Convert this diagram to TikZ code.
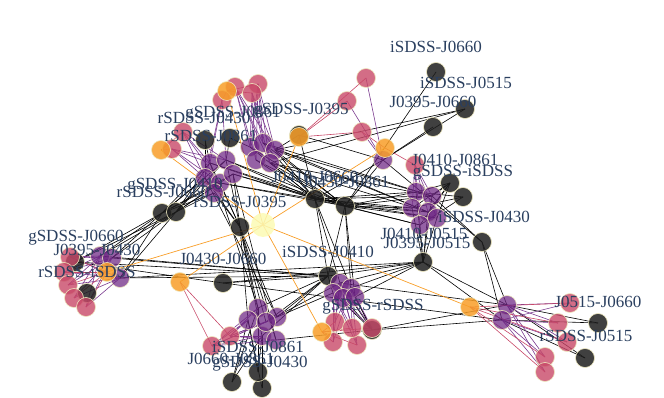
\documentclass[tikz,border=0pt]{standalone}
\usepackage{fontspec}
\setmainfont{Liberation Serif}

\pgfdeclarelayer{bg}
\pgfsetlayers{bg,main}

\definecolor{nodedark}{RGB}{30,30,30}
\definecolor{magpurple}{RGB}{108,36,130}
\definecolor{magpink}{RGB}{200,72,104}
\definecolor{magorange}{RGB}{248,158,40}
\definecolor{magyellow}{RGB}{252,250,180}
\definecolor{rim}{RGB}{238,232,190}
\definecolor{labelblue}{RGB}{42,63,95}

\tikzset{
  vtx/.style={circle, inner sep=0pt, minimum size=19pt, line width=0.6pt, draw=rim, fill opacity=0.85},
  dk/.style={vtx, fill=nodedark},
  pu/.style={vtx, fill=magpurple, fill opacity=0.72},
  pk/.style={vtx, fill=magpink, fill opacity=0.8},
  og/.style={vtx, fill=magorange},
  ye/.style={vtx, fill=magyellow, minimum size=24pt, draw=none},
  blk/.style={black, line width=0.6pt},
  pur/.style={magpurple!90!white, line width=0.6pt},
  pnk/.style={magpink, line width=0.6pt},
  org/.style={magorange, line width=0.7pt},
  lbl/.style={text=labelblue, font=\fontsize{17}{20}\selectfont, inner sep=0pt, anchor=base}
}

\begin{document}
\begin{tikzpicture}[x=1pt, y=-1pt]
\useasboundingbox (0,0) rectangle (664,398);

% vertices, dark first
\foreach \n/\x/\y in {d1/436/72, d2/465/109, d3/433/127, d4/205/140, d5/230/138,
    d6/299/135, d7/162/213, d8/176/212, d9/240/227, d10/315/199, d11/345/206,
    d12/328/276, d13/223/283, d14/450/183, d15/463/197, d16/482/242, d17/423/262,
    d18/598/323, d19/585/358, d20/232/382, d21/262/388, d22/258/372, d23/372/330,
    d24/75/262, d25/87/293}
  \node[dk] (\n) at (\x,\y) {};
\foreach \n/\x/\y in {pA1/250/147, pA2/263/143, pA3/275/150, pA4/256/160, pA5/270/163,
    pB1/210/163, pB2/226/160, pB3/205/178, pB4/220/183, pB5/233/174, pB6/214/193,
    pC1/100/256, pC2/112/258, pC3/120/278,
    pD1/258/308, pD2/248/320, pD3/277/317, pD4/262/336, pD5/276/340, pD6/266/322,
    pE1/340/283, pE2/333/293, pE3/351/288, pE4/343/298, pE5/355/297,
    pF1/416/192, pF2/432/196, pF3/412/208, pF4/428/212, pF5/420/225, pF6/437/218,
    pG1/507/305, pG2/502/320, pH1/383/160}
  \node[pu] (\n) at (\x,\y) {};
\foreach \n/\x/\y in {k1/235/87, k2/258/84, k3/252/93, k4/222/100,
    k5/366/78, k6/347/101, k7/362/132, k8/183/132, k9/172/149, k10/415/165,
    k11/70/257, k12/64/272, k13/68/285, k14/74/298, k15/86/307,
    k16/230/336, k17/212/346,
    k18/335/322, k19/333/342, k20/357/345, k21/352/328, k22/372/328,
    k23/570/303, k24/558/323, k25/567/342, k26/545/357, k27/545/372}
  \node[pk] (\n) at (\x,\y) {};
\foreach \n/\x/\y in {o1/227/91, o2/161/150, o3/299/137, o4/385/148,
    o5/107/272, o6/180/282, o7/322/332, o8/470/307}
  \node[og] (\n) at (\x,\y) {};
\node[ye] (y0) at (263,225) {};

\begin{pgfonlayer}{bg}
% black links
\foreach \i in {1,...,5} \foreach \b in {d10,d11} \draw[blk] (pA\i.center) -- (\b.center);
\foreach \i in {1,2,4,5} \foreach \b in {d10,d11} \draw[blk] (pB\i.center) -- (\b.center);
\foreach \i in {1,...,6} \foreach \b in {d7,d8} \draw[blk] (pB\i.center) -- (\b.center);
\foreach \i in {1,2,3} \foreach \b in {d7,d8} \draw[blk] (pC\i.center) -- (\b.center);
\foreach \b in {d7,d8} \draw[blk] (d24.center) -- (\b.center);
\foreach \i in {1,...,6} \draw[blk] (d9.center) -- (pB\i.center);
\foreach \i in {1,...,6} \draw[blk] (d9.center) -- (pD\i.center);
\foreach \i in {1,3,5} \draw[blk] (pB\i.center) -- (pD\i.center);
\foreach \i in {1,...,6} \foreach \b in {d10,d11} \draw[blk] (pF\i.center) -- (\b.center);
\foreach \i in {2,4} \foreach \b in {pA2,pA3,pA5} \draw[blk] (pF\i.center) -- (\b.center);
\foreach \b in {d12,pE1,pE3} \draw[blk] (d10.center) -- (\b.center);
\foreach \b in {d12,pE3,pE5} \draw[blk] (d11.center) -- (\b.center);
\foreach \i in {1,3,4,6} \draw[blk] (d12.center) -- (pD\i.center);
\foreach \b in {d17,d13,pE2} \draw[blk] (d12.center) -- (\b.center);
\foreach \i in {1,3,5} \draw[blk] (pE\i.center) -- (d17.center);
\foreach \i in {1,2,3} \draw[blk] (pC\i.center) -- (d12.center);
\foreach \b in {d12,d13} \draw[blk] (d24.center) -- (\b.center);
\draw[blk] (pC3.center) -- (d17.center);
\draw[blk] (d13.center) -- (d17.center);
\foreach \i in {1,...,6} \draw[blk] (d17.center) -- (pF\i.center);
\foreach \b in {pG1,pG2} \draw[blk] (d17.center) -- (\b.center);
\foreach \b in {pG1,pG2} \draw[blk] (d16.center) -- (\b.center);
\draw[blk] (pH1.center) -- (d16.center);
\draw[blk] (pF2.center) -- (d16.center);
\foreach \i in {1,...,6} \draw[blk] (pF\i.center) -- (d14.center);
\foreach \i in {1,3,5} \draw[blk] (pF\i.center) -- (d15.center);
\foreach \a in {pG1,pG2} \foreach \b in {d18,d19} \draw[blk] (\a.center) -- (\b.center);
\foreach \i in {1,...,5} \draw[blk] (pE\i.center) -- (d23.center);
\foreach \b in {pG1,pG2} \draw[blk] (d23.center) -- (\b.center);
\draw[blk] (pE1.center) -- (pG1.center);
\draw[blk] (d13.center) -- (pG2.center);
\foreach \i in {2,4} \foreach \b in {d20,d21,d22} \draw[blk] (pD\i.center) -- (\b.center);
\foreach \b in {d20,d22} \draw[blk] (pD1.center) -- (\b.center);
\draw[blk] (pD3.center) -- (pE2.center);
\draw[blk] (pD6.center) -- (pE1.center);
\draw[blk] (pD5.center) -- (d23.center);
\foreach \b in {pB1,pB3} \draw[blk] (d4.center) -- (\b.center);
\foreach \b in {pB2,pA1} \draw[blk] (d5.center) -- (\b.center);
\foreach \b in {pA3,pH1,d10} \draw[blk] (d6.center) -- (\b.center);
\draw[blk] (d1.center) -- (d11.center);
\foreach \b in {pH1,pA3,pA5} \draw[blk] (d2.center) -- (\b.center);
\draw[blk] (d3.center) -- (pH1.center);
\foreach \b in {d10,d11} \draw[blk] (pH1.center) -- (\b.center);
% purple links
\foreach \a in {k1,k2,k3} \foreach \i in {1,...,5} \draw[pur] (\a.center) -- (pA\i.center);
\foreach \i in {1,2,3} \draw[pur] (k4.center) -- (pB\i.center);
\foreach \a in {k8,k9} \foreach \i in {1,...,4} \draw[pur] (\a.center) -- (pB\i.center);
\foreach \a in {k5,k6,k7} \draw[pur] (\a.center) -- (pH1.center);
\foreach \i in {1,...,6} \draw[pur] (k10.center) -- (pF\i.center);
\foreach \a in {k11,k12,k13,k14,k15} \foreach \i in {1,2,3} \draw[pur] (\a.center) -- (pC\i.center);
\foreach \a in {k16,k17} \foreach \i in {1,...,6} \draw[pur] (\a.center) -- (pD\i.center);
\foreach \a in {k18,k19,k20,k21,k22} \foreach \i in {1,2,3} \draw[pur] (\a.center) -- (pE\i.center);
\foreach \a in {k23,k24,k25,k26,k27} \foreach \b in {pG1,pG2} \draw[pur] (\a.center) -- (\b.center);
% pink links
\foreach \b in {k1,k2,k3,k4} \draw[pnk] (o1.center) -- (\b.center);
\foreach \b in {k8,k9} \draw[pnk] (o2.center) -- (\b.center);
\foreach \b in {k5,k6,k7} \draw[pnk] (o3.center) -- (\b.center);
\foreach \b in {k7,k10} \draw[pnk] (o4.center) -- (\b.center);
\foreach \b in {k11,k12,k13,k14,k15} \draw[pnk] (o5.center) -- (\b.center);
\foreach \b in {k16,k17} \draw[pnk] (o6.center) -- (\b.center);
\foreach \b in {k18,k19,k20,k21,k22} \draw[pnk] (o7.center) -- (\b.center);
\foreach \b in {k23,k24,k25,k26,k27} \draw[pnk] (o8.center) -- (\b.center);
% orange links
\foreach \i in {1,...,8} \draw[org] (y0.center) -- (o\i.center);
\end{pgfonlayer}

% labels
\foreach \t/\x/\y [count=\i] in {iSDSS-J0660/436/53, iSDSS-J0515/466/89, J0395-J0660/433/108,
    gSDSS-J0395/301/115, gSDSS-J0861/233/118, rSDSS-J0430/204/124, rSDSS-J0861/211/142,
    gSDSS-J0410/175/190, rSDSS-J0660/163/198, rSDSS-J0395/240/208,
    J0410-J0660/315/183, J0430-J0861/346/188, iSDSS-J0410/328/258, J0430-J0660/223/265,
    gSDSS-J0660/76/242, J0395-J0430/97/255, rSDSS-iSDSS/87/277,
    J0410-J0861/455/166, gSDSS-iSDSS/463/177, iSDSS-J0430/484/223,
    J0410-J0515/424/240, J0395-J0515/427/248, gSDSS-rSDSS/373/310,
    iSDSS-J0861/258/352, J0660-J0861/231/364, gSDSS-J0430/260/367,
    J0515-J0660/598/307, rSDSS-J0515/586/341}
  \node[lbl] (lab\i) at (\x,\y) {\t};
\end{tikzpicture}
\end{document}
